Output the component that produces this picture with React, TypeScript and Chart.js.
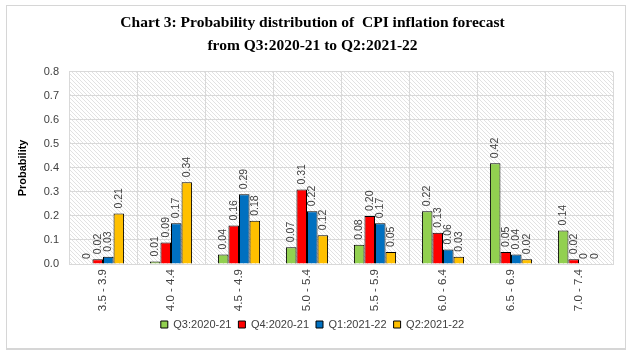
import React, { useEffect, useRef } from "react";
import { Chart, registerables } from "chart.js";

Chart.register(...registerables);

const categories = ["3.5 - 3.9", "4.0 - 4.4", "4.5 - 4.9", "5.0 - 5.4", "5.5 - 5.9", "6.0 - 6.4", "6.5 - 6.9", "7.0 - 7.4"];
const seriesNames = ["Q3:2020-21", "Q4:2020-21", "Q1:2021-22", "Q2:2021-22"];
const q3_2020 = [0, 0.01, 0.04, 0.07, 0.08, 0.22, 0.42, 0.14];
const q4_2020 = [0.02, 0.09, 0.16, 0.31, 0.2, 0.13, 0.05, 0.02];
const q1_2021 = [0.03, 0.17, 0.29, 0.22, 0.17, 0.06, 0.04, 0];
const q2_2021 = [0.21, 0.34, 0.18, 0.12, 0.05, 0.03, 0.02, 0];
const yTicks = [0, 0.1, 0.2, 0.3, 0.4, 0.5, 0.6, 0.7, 0.8];
const titleLines = ["Chart 3: Probability distribution of  CPI inflation forecast", "from Q3:2020-21 to Q2:2021-22"];

const colors = ["#92D050", "#FF0000", "#0070C0", "#FFC000"];

function makePattern(ctx: CanvasRenderingContext2D) {
  const c = document.createElement("canvas");
  c.width = 4;
  c.height = 4;
  const p = c.getContext("2d")!;
  p.fillStyle = "#ffffff";
  p.fillRect(0, 0, 4, 4);
  p.fillStyle = "#e2e2e2";
  for (let i = 0; i < 4; i++) p.fillRect(i, i, 1, 1);
  return ctx.createPattern(c, "repeat");
}

const framePlugin = {
  id: "frame",
  beforeDraw(chart: any) {
    const { ctx, width, height, chartArea } = chart;
    ctx.save();
    ctx.fillStyle = "#ffffff";
    ctx.fillRect(0, 0, width, height);
    ctx.strokeStyle = "#d6d6d6";
    ctx.lineWidth = 1;
    ctx.strokeRect(6.5, 5.5, width - 12, height - 8);
    ctx.fillStyle = "#d6d6d6";
    ctx.fillRect(6, height - 3, width - 11, 2);
    const pat = makePattern(ctx);
    if (pat) {
      ctx.fillStyle = pat;
      ctx.fillRect(chartArea.left, chartArea.top, chartArea.right - chartArea.left, chartArea.bottom - chartArea.top);
    }
    ctx.restore();
  },
};

const valueLabelPlugin = {
  id: "valueLabels",
  afterDatasetsDraw(chart: any) {
    const { ctx } = chart;
    ctx.save();
    ctx.font = "10.5px 'Liberation Sans Narrow', 'Liberation Sans', sans-serif";
    ctx.fillStyle = "#404040";
    ctx.textAlign = "left";
    ctx.textBaseline = "middle";
    chart.data.datasets.forEach((ds: any, di: number) => {
      const meta = chart.getDatasetMeta(di);
      meta.data.forEach((bar: any, i: number) => {
        const v = ds.data[i];
        const txt = v === 0 ? "0" : v.toFixed(2);
        ctx.save();
        ctx.translate(bar.x, bar.y - 5);
        ctx.rotate(-Math.PI / 2);
        ctx.fillText(txt, 0, 0);
        ctx.restore();
      });
    });
    ctx.restore();
  },
};

export default function App() {
  const ref = useRef<HTMLCanvasElement | null>(null);
  useEffect(() => {
    document.body.style.margin = "0";
    const seriesData = [q3_2020, q4_2020, q1_2021, q2_2021];
    const chart = new Chart(ref.current!, {
      type: "bar",
      data: {
        labels: categories,
        datasets: seriesData.map((d, i) => ({
          label: seriesNames[i],
          data: d,
          backgroundColor: colors[i],
          borderColor: "#000000",
          borderWidth: 1,
          categoryPercentage: 0.62,
          barPercentage: 1,
        })),
      },
      options: {
        responsive: false,
        animation: false,
        layout: { padding: { left: 12, right: 18, top: 0, bottom: 11 } },
        plugins: {
          title: {
            display: true,
            text: titleLines,
            color: "#000000",
            font: { family: "'Liberation Serif', serif", size: 15.5, weight: "bold", lineHeight: 1.48 },
            padding: { top: 11.5, bottom: 14.5 },
          },
          legend: {
            position: "bottom",
            labels: {
              boxWidth: 7,
              boxHeight: 7,
              padding: 7,
              color: "#404040",
              font: { family: "'Liberation Sans', sans-serif", size: 11 },
            },
          },
          tooltip: { enabled: false },
        },
        scales: {
          x: {
            grid: { color: "#d9d9d9", drawTicks: false, offset: true },
            border: { color: "#d9d9d9" },
            ticks: {
              minRotation: 90,
              maxRotation: 90,
              padding: 5,
              color: "#404040",
              font: { family: "'Liberation Sans', sans-serif", size: 11.5 },
            },
            afterFit(scale: any) {
              scale.height = 48;
            },
          },
          y: {
            min: 0,
            max: 0.8,
            afterBuildTicks(scale: any) {
              scale.ticks = yTicks.map((v) => ({ value: v }));
            },
            grid: { color: "#d9d9d9", drawTicks: false },
            border: { color: "#d9d9d9" },
            ticks: {
              padding: 10,
              color: "#404040",
              font: { family: "'Liberation Sans', sans-serif", size: 11 },
              callback: (v: any) => Number(v).toFixed(1),
            },
            title: {
              display: true,
              text: "Probability",
              color: "#000000",
              font: { family: "'Liberation Sans', sans-serif", size: 11, weight: "bold" },
              padding: { top: 4, bottom: 4 },
            },
            afterFit(scale: any) {
              scale.width = 57;
            },
          },
        },
      },
      plugins: [framePlugin, valueLabelPlugin],
    });
    return () => chart.destroy();
  }, []);
  return (
    <div style={{ width: 631, height: 351 }}>
      <canvas ref={ref} width={631} height={351} style={{ display: "block" }} />
    </div>
  );
}
